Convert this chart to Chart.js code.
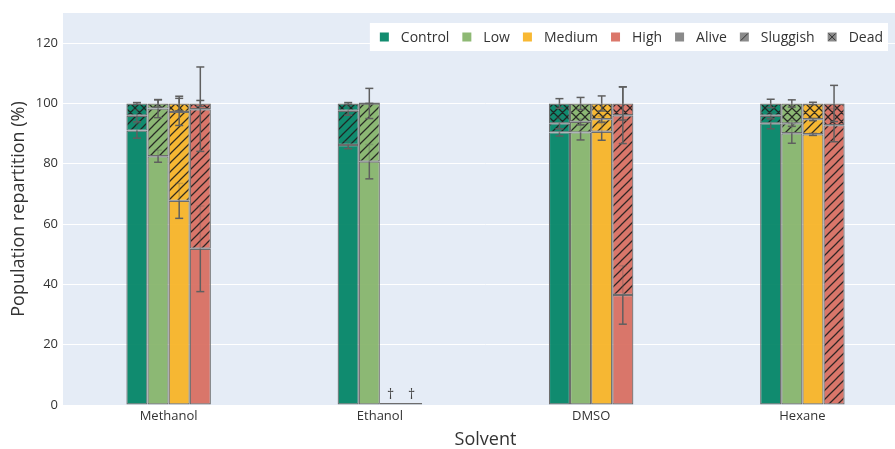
<!DOCTYPE html>
<html>
<head>
<meta charset="utf-8">
<script src="https://cdn.jsdelivr.net/npm/chart.js@4.4.1/dist/chart.umd.min.js"></script>
<style>
  html, body { margin: 0; padding: 0; background: #fff; overflow: hidden; }
  #wrap { width: 913px; height: 449px; }
</style>
</head>
<body>
<div id="wrap"><canvas id="popChart" width="913" height="449"></canvas></div>
<script>
const solvents = ['Methanol', 'Ethanol', 'DMSO', 'Hexane'];
const doses = ['Control', 'Low', 'Medium', 'High'];
const states = ['Alive', 'Sluggish', 'Dead'];

// rows = dose (Control, Low, Medium, High), columns = solvent
const alive = [
    [91.0, 86.2, 90.4, 93.4],
    [82.5, 80.7, 90.4, 90.1],
    [67.7, 0, 90.6, 89.8],
    [51.8, 0, 36.5, 0]
];
const sluggish = [
    [4.9, 11.4, 3.0, 2.5],
    [15.8, 19.3, 3.5, 3.3],
    [29.5, 0, 4.2, 5.0],
    [46.3, 0, 59.6, 92.8]
];
const dead = [
    [4.1, 2.4, 6.6, 4.1],
    [1.7, 0, 6.1, 6.6],
    [2.8, 0, 5.2, 5.2],
    [1.9, 0, 3.9, 7.2]
];

// error bars (same layout), null = no bar
const aliveErr = [
    [2.5, 1.2, 1.2, 1.8],
    [2.0, 5.7, 2.5, 3.3],
    [5.8, null, 2.8, 0.4],
    [14.2, null, 9.7, null]
];
const sluggishErr = [
    [2.0, 1.5, 1.8, 1.0],
    [3.0, 5.0, 1.0, 1.0],
    [4.5, null, 1.0, 0.5],
    [14.0, null, 9.4, 5.5]
];
const deadErr = [
    [0.3, 0.3, 1.6, 1.4],
    [1.2, 0, 2.0, 1.2],
    [2.4, null, 2.5, 0.4],
    [1.0, null, 5.5, 6.0]
];

const doseColors = ['rgba(0,131,100,0.93)', 'rgba(133,180,105,0.93)', 'rgba(248,179,36,0.93)', 'rgba(216,109,95,0.93)'];
const legendGray = '#8a8a8a';
const textColor = '#333';

function hatch(color, cross) {
    const s = 9;
    const c = document.createElement('canvas');
    c.width = s; c.height = s;
    const g = c.getContext('2d');
    g.fillStyle = color;
    g.fillRect(0, 0, s, s);
    g.strokeStyle = 'rgba(30,30,30,0.9)';
    g.lineWidth = 1.25;
    g.beginPath();
    g.moveTo(0, s); g.lineTo(s, 0);
    g.moveTo(-1, 1); g.lineTo(1, -1);
    g.moveTo(s - 1, s + 1); g.lineTo(s + 1, s - 1);
    if (cross) {
        g.moveTo(0, 0); g.lineTo(s, s);
        g.moveTo(-1, s - 1); g.lineTo(1, s + 1);
        g.moveTo(s - 1, -1); g.lineTo(s + 1, 1);
    }
    g.stroke();
    return g.createPattern(c, 'repeat');
}

const values = [alive, sluggish, dead];
const errors = [aliveErr, sluggishErr, deadErr];

const datasets = [];
doses.forEach((dose, k) => {
    states.forEach((state, s) => {
        datasets.push({
            label: `${dose} ${state}`,
            data: values[s][k],
            errors: errors[s][k],
            stack: dose,
            backgroundColor: s === 0 ? doseColors[k] : hatch(doseColors[k], s === 2),
            borderColor: '#6d6d6d',
            borderWidth: 1.2,
            borderSkipped: false,
            minBarLength: s === 2 ? 2 : 0, // empty groups still show a flat outline
            categoryPercentage: 0.4,
            barPercentage: 1
        });
    });
});

const plotBackground = {
    id: 'plotBackground',
    beforeDraw(chart) {
        const {ctx, chartArea: a} = chart;
        ctx.save();
        ctx.fillStyle = '#e5ecf6';
        ctx.fillRect(a.left, a.top, a.right - a.left, a.bottom - a.top);
        ctx.restore();
    }
};

// error bars; the part hidden behind the upper segments is drawn faint
const errorBars = {
    id: 'errorBars',
    afterDatasetsDraw(chart) {
        const y = chart.scales.y;
        const ctx = chart.ctx;
        const solid = '#5f5f5f', faint = 'rgba(95,95,95,0.3)';
        const seg = (x, v1, v2, color) => {
            ctx.strokeStyle = color;
            ctx.beginPath();
            ctx.moveTo(x, y.getPixelForValue(v1));
            ctx.lineTo(x, y.getPixelForValue(v2));
            ctx.stroke();
        };
        const cap = (x, v, color) => {
            ctx.strokeStyle = color;
            ctx.beginPath();
            ctx.moveTo(x - 4, y.getPixelForValue(v));
            ctx.lineTo(x + 4, y.getPixelForValue(v));
            ctx.stroke();
        };
        ctx.save();
        ctx.lineWidth = 1.5;
        chart.data.datasets.forEach((ds, d) => {
            const k = Math.floor(d / 3), s = d % 3;
            chart.getDatasetMeta(d).data.forEach((bar, i) => {
                const e = ds.errors[i];
                if (e === null) return;
                let top = 0;
                for (let t = 0; t <= s; t++) top += values[t][k][i];
                const stackTop = alive[k][i] + sluggish[k][i] + dead[k][i];
                const hi = top + e, lo = top - e;
                seg(bar.x, lo, top, solid);
                cap(bar.x, lo, solid);
                if (hi <= stackTop) {
                    seg(bar.x, top, hi, faint);
                    cap(bar.x, hi, faint);
                } else {
                    seg(bar.x, top, stackTop, faint);
                    seg(bar.x, stackTop, hi, solid);
                    cap(bar.x, hi, solid);
                }
            });
        });
        ctx.restore();
    }
};

// daggers for groups with no survivors + legend box inside plot
const overlay = {
    id: 'overlay',
    afterDraw(chart) {
        const {ctx, chartArea: a} = chart;
        const y0 = chart.scales.y.getPixelForValue(0);
        ctx.save();
        ctx.fillStyle = '#444';
        ctx.font = '14px "Open Sans"';
        ctx.textAlign = 'center';
        ctx.textBaseline = 'middle';
        solvents.forEach((sol, j) => {
            doses.forEach((dose, k) => {
                if (alive[k][j] + sluggish[k][j] + dead[k][j] > 0) return;
                const bar = chart.getDatasetMeta(k * 3).data[j];
                ctx.fillText('\u2020', bar.x, y0 - 10);
            });
        });

        const items = doses.map((d, k) => ({label: d, fill: doseColors[k], mark: null}))
            .concat(states.map((st, s) => ({label: st, fill: legendGray, mark: s === 0 ? null : (s === 1 ? '/' : 'x')})));
        ctx.font = '14px "Open Sans"';
        const sq = 9, gapIn = 12, gapOut = 13, padL = 10, padR = 5;
        let total = padL + padR;
        items.forEach((it, i) => {
            it.w = ctx.measureText(it.label).width;
            total += sq + gapIn + it.w + (i > 0 ? gapOut : 0);
        });
        const right = a.right - 20;
        const top = a.top + 10;
        const h = 28;
        const left = right - total;
        ctx.fillStyle = '#fff';
        ctx.fillRect(left, top, total, h);
        let x = left + padL;
        const cy = top + h / 2;
        ctx.textAlign = 'left';
        items.forEach((it) => {
            ctx.fillStyle = it.fill;
            ctx.fillRect(x, cy - sq / 2, sq, sq);
            if (it.mark) {
                ctx.strokeStyle = '#333';
                ctx.lineWidth = 1;
                ctx.beginPath();
                ctx.moveTo(x + 1, cy + sq / 2 - 1); ctx.lineTo(x + sq - 1, cy - sq / 2 + 1);
                if (it.mark === 'x') {
                    ctx.moveTo(x + 1, cy - sq / 2 + 1); ctx.lineTo(x + sq - 1, cy + sq / 2 - 1);
                }
                ctx.stroke();
            }
            x += sq + gapIn;
            ctx.fillStyle = textColor;
            ctx.fillText(it.label, x, cy + 1);
            x += it.w + gapOut;
        });
        ctx.restore();
    }
};

Chart.defaults.font.family = '"Open Sans", sans-serif';
Chart.defaults.color = textColor;

new Chart(document.getElementById('popChart'), {
    type: 'bar',
    data: { labels: solvents, datasets: datasets },
    options: {
        responsive: false,
        animation: false,
        layout: { padding: { top: 13, right: 5, left: 0, bottom: 0 } },
        plugins: {
            legend: { display: false },
            tooltip: { enabled: false }
        },
        scales: {
            x: {
                stacked: true,
                grid: { display: false, drawTicks: false },
                border: { display: false },
                ticks: { font: { size: 13 }, padding: 3, color: textColor },
                title: { display: true, text: 'Solvent', font: { size: 18, lineHeight: 1 }, padding: { top: 0, bottom: 0 }, color: textColor },
                afterFit(scale) { scale.height = 44; }
            },
            y: {
                stacked: true,
                min: 0,
                max: 130,
                grid: { color: '#ffffff', lineWidth: 1, drawTicks: false },
                border: { display: false },
                ticks: { stepSize: 20, includeBounds: false, font: { size: 13 }, padding: 5, color: textColor },
                title: { display: true, text: 'Population repartition (%)', font: { size: 18 }, padding: { top: 8, bottom: 0 }, color: textColor },
                afterFit(scale) { scale.width = 63; }
            }
        }
    },
    plugins: [plotBackground, errorBars, overlay]
});
</script>
</body>
</html>
